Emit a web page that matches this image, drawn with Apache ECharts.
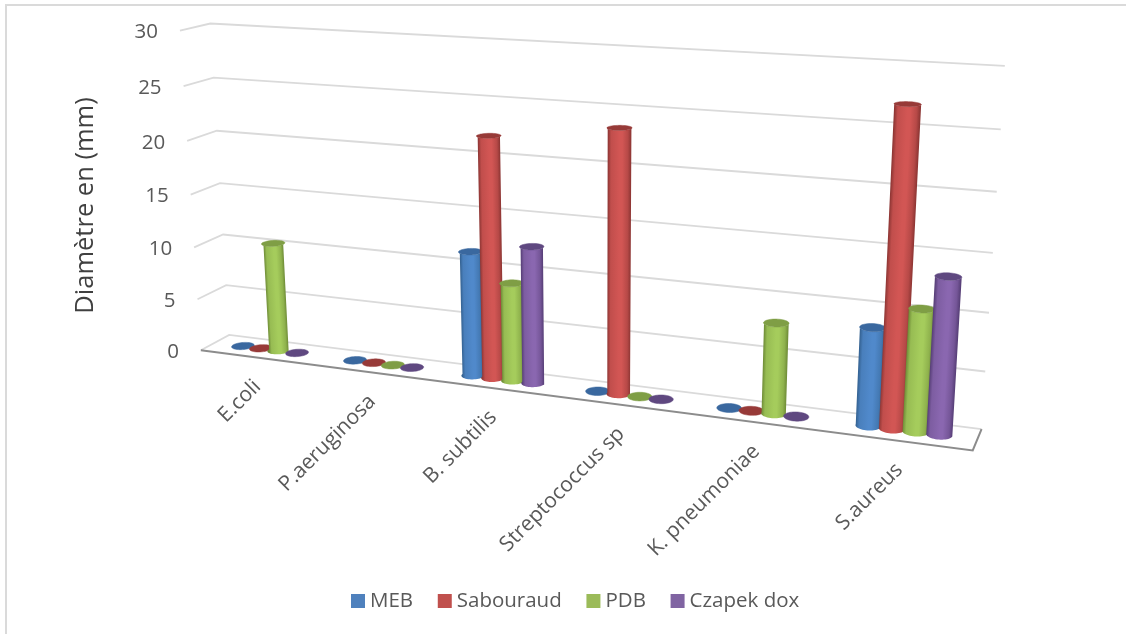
<!DOCTYPE html>
<html>
<head>
<meta charset="utf-8">
<style>html,body{margin:0;padding:0;background:#fff}#chart{width:1126px;height:634px}</style>
<script src="https://cdn.jsdelivr.net/npm/echarts@6/dist/echarts.min.js"></script>
</head>
<body>
<div id="chart"></div>
<script>
// Inhibition diameters per organism and culture medium
const categories = ['E.coli', 'P.aeruginosa', 'B. subtilis', 'Streptococcus sp', 'K. pneumoniae', 'S.aureus'];
const MEB = [0, 0, 11.5, 0, 0, 8.5];
const Sabouraud = [0, 0, 22, 23.5, 0, 27];
const PDB = [10.4, 0, 9, 0, 8, 10.5];
const CzapekDox = [0, 0, 12.5, 0, 0, 13.4];
const yTicks = [0, 5, 10, 15, 20, 25, 30];
const yTitle = 'Diamètre en (mm)';

const FONT = '"Open Sans", sans-serif';
const TEXT = '#595959';
const GRID_LINE = '#dadada';
const PALETTE = {
  MEB: { swatch: '#4f81bd', light: '#5089cb', dark: '#33608f', cap: '#3a689f' },
  Sabouraud: { swatch: '#c0504d', light: '#d25654', dark: '#8c3533', cap: '#973a38' },
  PDB: { swatch: '#9bbb59', light: '#a5cc5c', dark: '#6d8a36', cap: '#7f9e45' },
  'Czapek dox': { swatch: '#8064a2', light: '#8a67b0', dark: '#553d75', cap: '#5f4880' }
};

// Camera calibration: box coordinates [u, w, h] paired with page positions.
// u runs over the categories, w is depth (0 front, 1 back), h is the value axis.
const CALIBRATION = [
  [0,0,0,201,350],[0,0,5,197.3,299.3],[0,0,10,194,247],[0,0,15,191,195],[0,0,20,187,141],[0,0,25,183.5,86.5],[0,0,30,180,30.5],
  [0,1,0,229,335],[0,1,5,226.7,285],[0,1,10,222.7,234.3],[0,1,15,220,183],[0,1,20,217,131],[0,1,25,214,77.5],[0,1,30,210,23],
  [6,1,0,981.7,429],[6,1,5,985,371.7],[6,1,10,989,312.7],[6,1,15,993,253],[6,1,20,996.7,191.7],[6,1,25,1000.7,130],[6,1,30,1004.7,65.7],
  [6,0,0,973,450],
  [0.5,0.5,0,270,349.5],[1.5,0.5,0,383,364],[2.5,0.5,0,503,380],[3.5,0.5,0,629,395],[4.5,0.5,0,762,412],[5.5,0.5,0,904,430]
];

// Least-squares fit of the 3x4 projective camera (last coefficient fixed at 1)
function fitCamera(rows) {
  const n = 11, A = Array.from({ length: n }, () => new Array(n + 1).fill(0));
  const add = (r, b) => {
    for (let i = 0; i < n; i++) {
      for (let j = 0; j < n; j++) A[i][j] += r[i] * r[j];
      A[i][n] += r[i] * b;
    }
  };
  rows.forEach(([u, w, h, x, y]) => {
    const U = u / 6, H = h / 30;
    add([U, w, H, 1, 0, 0, 0, 0, -x * U, -x * w, -x * H], x);
    add([0, 0, 0, 0, U, w, H, 1, -y * U, -y * w, -y * H], y);
  });
  for (let c = 0; c < n; c++) {
    let p = c;
    for (let r = c + 1; r < n; r++) if (Math.abs(A[r][c]) > Math.abs(A[p][c])) p = r;
    [A[c], A[p]] = [A[p], A[c]];
    for (let r = 0; r < n; r++) {
      if (r === c) continue;
      const f = A[r][c] / A[c][c];
      for (let k = c; k <= n; k++) A[r][k] -= f * A[c][k];
    }
  }
  return A.map((row, i) => row[n] / row[i]);
}
const CAM = fitCamera(CALIBRATION);
function project(u, w, h) {
  const U = u / 6, H = h / 30;
  const d = CAM[8] * U + CAM[9] * w + CAM[10] * H + 1;
  return [
    (CAM[0] * U + CAM[1] * w + CAM[2] * H + CAM[3]) / d,
    (CAM[4] * U + CAM[5] * w + CAM[6] * H + CAM[7]) / d
  ];
}

// Bar geometry in box units
const SLOT = 0.163;       // distance between neighbouring cylinders in a cluster
const RADIUS_U = 0.088;
const RADIUS_W = 0.22;
const ARC_STEPS = 24;

function hex(c) { return [1, 3, 5].map(i => parseInt(c.substr(i, 2), 16)); }
function mix(a, b, t) {
  const A = hex(a), B = hex(b);
  return 'rgb(' + A.map((v, i) => Math.round(v + (B[i] - v) * t)).join(',') + ')';
}

function cylinder(params, api) {
  const cat = api.value(0), val = api.value(1);
  const pal = PALETTE[params.seriesName];
  const cs = params.coordSys;
  // The hidden cartesian axes supply category and value scales; the camera places them in depth
  const at = api.coord([cat, val]);
  const at0 = api.coord([cat, 0]);
  const u0 = (at[0] - cs.x) / cs.width * categories.length;
  const h = (at0[1] - at[1]) / cs.height * 30;
  const u = u0 + (params.seriesIndex - 2.5) * SLOT;
  const ring = (a, z) => project(u + RADIUS_U * Math.cos(a), 0.5 + RADIUS_W * Math.sin(a), z);
  const children = [];
  if (h > 0) {
    // Outline: front half of the base, then the front half of the top in reverse
    const outline = [];
    for (let i = 0; i <= ARC_STEPS; i++) outline.push(ring(Math.PI + i / ARC_STEPS * Math.PI, 0));
    for (let i = ARC_STEPS; i >= 0; i--) outline.push(ring(Math.PI + i / ARC_STEPS * Math.PI, h));
    // Shading runs across the cylinder, square to its tilted axis
    const b = project(u, 0.5, 0), t = project(u, 0.5, h);
    const len = Math.hypot(t[0] - b[0], t[1] - b[1]);
    const nx = -(t[1] - b[1]) / len, ny = (t[0] - b[0]) / len;
    const mh = h / 2;
    const l = ring(Math.PI, mh), r = ring(0, mh);
    const halfSpan = Math.hypot(r[0] - l[0], r[1] - l[1]) / 2;
    const cx = (l[0] + r[0]) / 2, cy = (l[1] + r[1]) / 2;
    const sx = nx < 0 ? -nx : nx, sy = nx < 0 ? -ny : ny;
    const gradient = {
      type: 'linear', global: true,
      x: cx - sx * halfSpan, y: cy - sy * halfSpan,
      x2: cx + sx * halfSpan, y2: cy + sy * halfSpan,
      colorStops: [
        { offset: 0, color: pal.dark },
        { offset: 0.14, color: mix(pal.dark, pal.light, 0.75) },
        { offset: 0.5, color: pal.light },
        { offset: 0.62, color: pal.light },
        { offset: 0.86, color: mix(pal.dark, pal.light, 0.6) },
        { offset: 1, color: pal.dark }
      ]
    };
    children.push({ type: 'polygon', shape: { points: outline }, style: { fill: gradient } });
  }
  const cap = [];
  for (let i = 0; i < 48; i++) cap.push(ring(i / 48 * Math.PI * 2, h));
  children.push({ type: 'polygon', shape: { points: cap }, style: { fill: pal.cap, stroke: pal.cap, lineWidth: 0.5 } });
  return { type: 'group', children };
}

function line(points, color, width) {
  return { type: 'polyline', shape: { points }, style: { fill: 'none', stroke: color, lineWidth: width, lineJoin: 'miter' } };
}

// Box walls, floor, value ticks and category labels
function frame(params, api) {
  const n = categories.length;
  const children = [];
  yTicks.forEach(v => {
    const left = project(0, 0, v), back = project(0, 1, v), right = project(n, 1, v);
    children.push(line([left, back, right], GRID_LINE, 1.8));
    children.push({
      type: 'text',
      style: { x: left[0] - 22, y: left[1] + 2, text: String(v), fill: TEXT, font: '20.5px ' + FONT, align: 'right', verticalAlign: 'middle' }
    });
  });
  children.push(line([project(n, 1, 0), project(n, 0, 0), project(0, 0, 0)], '#8c8c8c', 2));
  categories.forEach((name, i) => {
    const p = project(i + 0.5, 0, 0);
    children.push({
      type: 'text',
      x: p[0] + 1.5, y: p[1] + 26,
      rotation: Math.PI / 4,
      style: { x: 0, y: 0, text: name, fill: TEXT, font: '21px ' + FONT, align: 'right', verticalAlign: 'middle' }
    });
  });
  children.push({
    type: 'text',
    x: 86, y: 205.5,
    rotation: Math.PI / 2,
    style: { x: 0, y: 0, text: yTitle, fill: '#404040', font: '25.5px ' + FONT, align: 'center', verticalAlign: 'middle' }
  });
  return { type: 'group', children };
}

function barSeries(name, values) {
  return {
    name,
    type: 'custom',
    coordinateSystem: 'cartesian2d',
    renderItem: cylinder,
    itemStyle: { color: PALETTE[name].swatch },
    encode: { x: 0, y: 1 },
    clip: false,
    data: values.map((v, i) => [i, v])
  };
}

const chart = echarts.init(document.getElementById('chart'));
chart.setOption({
  animation: false,
  backgroundColor: '#ffffff',
  grid: { left: 200, right: 120, top: 60, bottom: 200 },
  xAxis: { type: 'category', data: categories, show: false },
  yAxis: { type: 'value', min: 0, max: 30, interval: 5, show: false },
  graphic: [{
    type: 'polyline',
    shape: { points: [[6, 634], [6, 5], [1126, 5]] },
    style: { fill: 'none', stroke: GRID_LINE, lineWidth: 2 },
    silent: true
  }],
  legend: {
    left: 346, top: 585.5,
    itemWidth: 14, itemHeight: 14, itemGap: 24.7,
    icon: 'rect',
    textStyle: { color: TEXT, fontFamily: FONT, fontSize: 20.5 },
    data: Object.keys(PALETTE)
  },
  series: [
    {
      name: 'frame', type: 'custom', coordinateSystem: 'cartesian2d', renderItem: frame,
      silent: true, clip: false, data: [[0, 0]], encode: { x: 0, y: 1 }
    },
    barSeries('MEB', MEB),
    barSeries('Sabouraud', Sabouraud),
    barSeries('PDB', PDB),
    barSeries('Czapek dox', CzapekDox)
  ]
});
</script>
</body>
</html>
